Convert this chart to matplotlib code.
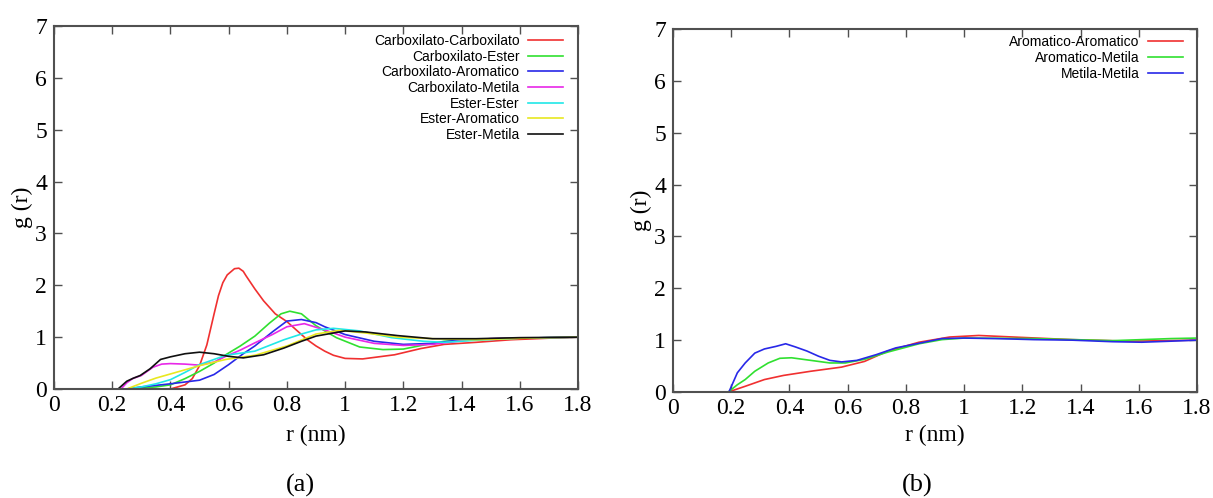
import matplotlib
matplotlib.use("Agg")
import matplotlib.pyplot as plt

# ---- painel (a): g(r) dos grupos com carboxilato / ester ----
cc_r = [0, 0.40, 0.45, 0.475, 0.50, 0.525, 0.55, 0.565, 0.58, 0.595, 0.62, 0.635, 0.65, 0.66,
        0.69, 0.72, 0.76, 0.80, 0.84, 0.87, 0.90, 0.93, 0.96, 1.0, 1.06, 1.17, 1.26, 1.34,
        1.45, 1.57, 1.7, 1.8]
cc_g = [0, 0, 0.08, 0.2, 0.45, 0.85, 1.45, 1.8, 2.05, 2.2, 2.32, 2.33, 2.27, 2.18,
        1.93, 1.7, 1.45, 1.3, 1.1, 0.95, 0.83, 0.73, 0.65, 0.59, 0.58, 0.66, 0.78, 0.86,
        0.90, 0.95, 0.98, 1.0]

ce_r = [0, 0.25, 0.30, 0.35, 0.40, 0.45, 0.50, 0.55, 0.59, 0.64, 0.69, 0.74, 0.78, 0.81, 0.85,
        0.90, 0.97, 1.05, 1.13, 1.2, 1.28, 1.34, 1.45, 1.6, 1.8]
ce_g = [0, 0, 0.02, 0.04, 0.08, 0.2, 0.34, 0.5, 0.66, 0.83, 1.02, 1.27, 1.45, 1.5, 1.45,
        1.22, 0.99, 0.81, 0.76, 0.77, 0.86, 0.92, 0.96, 0.98, 1.0]

ca_r = [0, 0.25, 0.30, 0.40, 0.50, 0.55, 0.60, 0.65, 0.69, 0.75, 0.80, 0.85, 0.90, 0.93, 1.0,
        1.1, 1.2, 1.3, 1.4, 1.5, 1.6, 1.8]
ca_g = [0, 0, 0.04, 0.10, 0.17, 0.28, 0.47, 0.68, 0.83, 1.1, 1.31, 1.34, 1.28, 1.2, 1.05,
        0.92, 0.86, 0.88, 0.95, 0.97, 0.98, 1.0]

cm_r = [0, 0.23, 0.25, 0.27, 0.30, 0.34, 0.37, 0.40, 0.45, 0.50, 0.55, 0.59, 0.64, 0.69, 0.75,
        0.80, 0.86, 0.94, 1.0, 1.1, 1.2, 1.3, 1.4, 1.5, 1.8]
cm_g = [0, 0, 0.12, 0.2, 0.26, 0.42, 0.48, 0.49, 0.48, 0.46, 0.52, 0.63, 0.75, 0.89, 1.05,
        1.2, 1.26, 1.12, 1.0, 0.88, 0.84, 0.86, 0.93, 0.97, 1.0]

ee_r = [0, 0.25, 0.30, 0.35, 0.40, 0.45, 0.50, 0.55, 0.59, 0.64, 0.69, 0.74, 0.79, 0.85, 0.90,
        0.96, 1.05, 1.16, 1.27, 1.34, 1.45, 1.6, 1.8]
ee_g = [0, 0, 0.04, 0.1, 0.18, 0.32, 0.47, 0.57, 0.65, 0.69, 0.73, 0.84, 0.95, 1.06, 1.14,
        1.17, 1.12, 0.99, 0.92, 0.90, 0.94, 0.98, 1.0]

ea_r = [0, 0.25, 0.30, 0.35, 0.40, 0.45, 0.50, 0.59, 0.69, 0.80, 0.90, 0.98, 1.07, 1.18, 1.3,
        1.45, 1.62, 1.8]
ea_g = [0, 0, 0.11, 0.21, 0.29, 0.37, 0.45, 0.57, 0.65, 0.83, 1.06, 1.13, 1.08, 1.0, 0.97,
        0.95, 0.98, 1.0]

em_r = [0, 0.22, 0.25, 0.273, 0.296, 0.33, 0.366, 0.40, 0.45, 0.50, 0.55, 0.60, 0.65, 0.72,
        0.79, 0.85, 0.90, 1.0, 1.07, 1.18, 1.3, 1.45, 1.6, 1.8]
em_g = [0, 0, 0.15, 0.21, 0.26, 0.39, 0.57, 0.62, 0.68, 0.71, 0.68, 0.63, 0.60, 0.66,
        0.79, 0.92, 1.02, 1.12, 1.10, 1.03, 0.97, 0.97, 0.99, 1.0]

# ---- painel (b): aromatico / metila ----
aa_r = [0, 0.19, 0.248, 0.314, 0.38, 0.473, 0.579, 0.658, 0.738, 0.845, 0.95, 1.05, 1.17,
        1.37, 1.57, 1.8]
aa_g = [0, 0, 0.11, 0.24, 0.32, 0.40, 0.48, 0.59, 0.79, 0.96, 1.06, 1.09, 1.06,
        1.01, 0.98, 1.0]

am_r = [0, 0.19, 0.221, 0.248, 0.281, 0.327, 0.367, 0.407, 0.473, 0.539, 0.592, 0.658, 0.738,
        0.845, 0.924, 1.0, 1.24, 1.51, 1.71, 1.8]
am_g = [0, 0, 0.14, 0.24, 0.40, 0.56, 0.65, 0.66, 0.61, 0.56, 0.56, 0.63, 0.77,
        0.93, 1.01, 1.04, 1.03, 0.99, 1.03, 1.04]

mm_r = [0, 0.192, 0.221, 0.248, 0.281, 0.314, 0.354, 0.387, 0.42, 0.46, 0.5, 0.539, 0.579,
        0.632, 0.698, 0.765, 0.845, 0.924, 1.0, 1.11, 1.24, 1.37, 1.51, 1.61, 1.71, 1.8]
mm_g = [0, 0, 0.37, 0.56, 0.75, 0.83, 0.88, 0.93, 0.87, 0.79, 0.69, 0.61, 0.58,
        0.61, 0.72, 0.85, 0.94, 1.03, 1.04, 1.03, 1.01, 1.0, 0.97, 0.96, 0.98, 1.0]

series_a = [
    ("Carboxilato-Carboxilato", cc_r, cc_g, "#f03030"),
    ("Carboxilato-Ester", ce_r, ce_g, "#30e030"),
    ("Carboxilato-Aromatico", ca_r, ca_g, "#2828e8"),
    ("Carboxilato-Metila", cm_r, cm_g, "#e828e8"),
    ("Ester-Ester", ee_r, ee_g, "#20e8e8"),
    ("Ester-Aromatico", ea_r, ea_g, "#e8e820"),
    ("Ester-Metila", em_r, em_g, "#101010"),
]
series_b = [
    ("Aromatico-Aromatico", aa_r, aa_g, "#f03030"),
    ("Aromatico-Metila", am_r, am_g, "#30e030"),
    ("Metila-Metila", mm_r, mm_g, "#2828e8"),
]

x_ticks = [0, 0.2, 0.4, 0.6, 0.8, 1.0, 1.2, 1.4, 1.6, 1.8]
x_tick_labels = ["0", "0.2", "0.4", "0.6", "0.8", "1", "1.2", "1.4", "1.6", "1.8"]
y_ticks = [0, 1, 2, 3, 4, 5, 6, 7]

serif = ["Liberation Serif", "DejaVu Serif"]
narrow = ["Liberation Sans Narrow", "Liberation Sans", "DejaVu Sans"]
frame_color = "#505050"

fig = plt.figure(figsize=(12.13, 4.98), dpi=100)
W, H = 1213, 498
# caixas dos eixos em pixels: (esquerda, topo, direita, base)
boxes = [(54, 26, 578, 389), (673, 29, 1197, 392)]
legend_anchor = [(0.971, 0.978), (0.973, 0.983)]
panel_labels = [("(a)", 300), ("(b)", 917)]

for k, (series, box) in enumerate(zip([series_a, series_b], boxes)):
    l, t, r, b = box
    ax = fig.add_axes([l / W, (H - b) / H, (r - l) / W, (b - t) / H])
    for name, xs, ys, col in series:
        ax.plot(xs, ys, color=col, lw=1.2, label=name)

    ax.set_xlim(0, 1.8)
    ax.set_ylim(0, 7)
    ax.set_xticks(x_ticks)
    ax.set_xticklabels(x_tick_labels, family=serif, fontsize=17)
    ax.set_yticks(y_ticks)
    ax.set_yticklabels([str(v) for v in y_ticks], family=serif, fontsize=17)
    ax.tick_params(direction="in", length=6, width=1, color=frame_color,
                   top=True, right=True)
    ax.tick_params(axis="x", pad=4)
    ax.tick_params(axis="y", pad=5)
    for sp in ax.spines.values():
        sp.set_color(frame_color)
        sp.set_linewidth(1.5)

    ax.set_xlabel("r (nm)", family=serif, fontsize=17, va="center")
    ax.xaxis.set_label_coords(0.5, -(435 - b) / (b - t))
    ax.set_ylabel("g (r)", family=serif, fontsize=17, va="center")
    ax.yaxis.set_label_coords(-0.061, 0.5)

    leg = ax.legend(loc="upper right", bbox_to_anchor=legend_anchor[k],
                    frameon=False, markerfirst=False, borderpad=0, borderaxespad=0,
                    handlelength=2.5, handletextpad=0.6, labelspacing=0.12,
                    prop={"family": narrow, "size": 10})

    txt, xc = panel_labels[k]
    fig.text(xc / W, (H - 485) / H, txt, family=serif, fontsize=19,
             ha="center", va="center")

fig.savefig("out.png", dpi=100, facecolor="white")
